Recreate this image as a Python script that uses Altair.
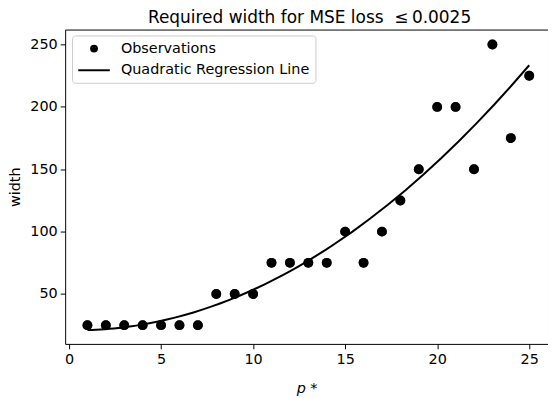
import altair as alt
import pandas as pd

# ---- data ----
p_star = list(range(1, 26))
width_obs = [25, 25, 25, 25, 25, 25, 25, 50, 50, 50, 75, 75, 75, 75, 100,
             75, 100, 125, 150, 200, 200, 150, 250, 175, 225]
series_names = ["Observations", "Quadratic Regression Line"]
x_tick_values = [0, 5, 10, 15, 20, 25]
y_tick_values = [50, 100, 150, 200, 250]
title_text = "Required width for MSE loss\u00a0\u00a0≤\u20090.0025"

df = pd.DataFrame({"p": p_star, "width": width_obs,
                   "series": [series_names[0]] * len(p_star)})

FONT = "DejaVu Sans"


def ring(r):
    return f"M{-r},0A{r},{r},0,1,1,{r},0A{r},{r},0,1,1,{-r},0Z"


# two concentric stroked rings -> reads as a solid dot in the legend
circle_path = ring(0.5) + " " + ring(0.167)
line_path = "M-2.67,0L2.67,0"

x_enc = alt.X("p:Q",
              scale=alt.Scale(domain=[-0.21, 26.02], nice=False, zero=False),
              axis=alt.Axis(values=x_tick_values, title="p *",
                            titleFontStyle="italic", format="d",
                            titlePadding=15))
y_enc = alt.Y("width:Q",
              scale=alt.Scale(domain=[10, 262], nice=False, zero=False),
              axis=alt.Axis(values=y_tick_values, title="width", format="d",
                            titlePadding=7))

base = alt.Chart(df)

# filled dots (no legend)
dots = base.mark_point(filled=True, size=100, shape="circle", color="black",
                       opacity=1).encode(x=x_enc, y=y_enc)

# outlined dots that also carry the legend
dots_outline = base.mark_point(filled=False, size=256, color="black",
                               strokeWidth=2).encode(
    x=x_enc,
    y=y_enc,
    shape=alt.Shape(
        "series:N",
        scale=alt.Scale(domain=series_names, range=[circle_path, line_path]),
        legend=alt.Legend(
            title=None, orient="none", legendX=7, legendY=6,
            symbolSize=144, symbolStrokeWidth=2,
            symbolFillColor="black", symbolOpacity=1, symbolOffset=9,
            labelOffset=20, labelFontSize=14.6, labelFont=FONT,
            labelColor="black", labelLimit=0,
            padding=6, rowPadding=6, strokeColor="#cccccc",
            fillColor="white", cornerRadius=3,
        ),
    ),
)

line = base.transform_regression(
    "p", "width", method="poly", order=2
).mark_line(color="black", strokeWidth=2).encode(x=x_enc, y=y_enc)

chart = (
    alt.layer(dots, dots_outline, line)
    .properties(
        width=490, height=319,
        title=alt.TitleParams(title_text, fontSize=17.2, fontWeight="normal",
                              font=FONT, color="black", offset=3, dx=3,
                              frame="group"),
        autosize=alt.AutoSizeParams(type="none"),
        padding={"left": 58, "top": 19, "right": 0, "bottom": 51},
    )
    .configure_view(stroke="black", strokeWidth=1)
    .configure_axis(grid=False, domain=False, tickColor="black", tickSize=5,
                    tickWidth=1, labelFontSize=14.6, labelColor="black",
                    labelFont=FONT, labelPadding=3, titleFont=FONT,
                    titleFontSize=14.6, titleFontWeight="normal",
                    titleColor="black")
)

chart.save("out.html", embed_options={"renderer": "svg", "actions": False})
